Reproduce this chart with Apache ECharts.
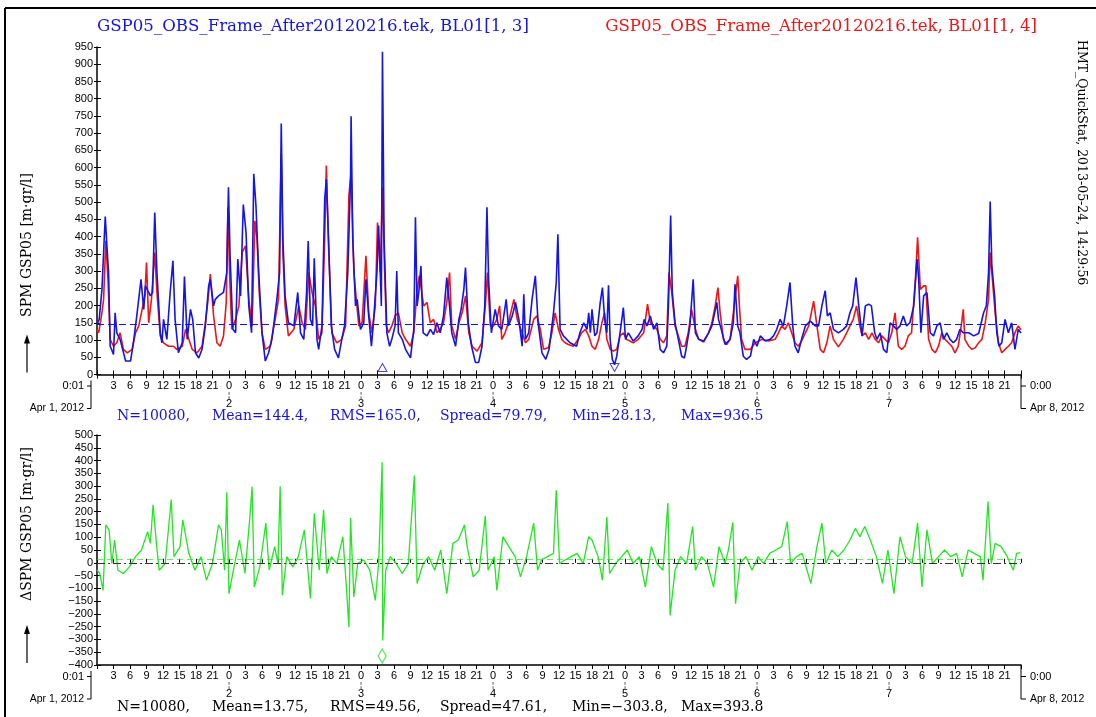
<!DOCTYPE html>
<html>
<head>
<meta charset="utf-8">
<script src="https://cdn.jsdelivr.net/npm/echarts@6/dist/echarts.min.js"></script>
<style>
html, body { margin: 0; padding: 0; background: #fff; }
#c { width: 1096px; height: 717px; }
</style>
</head>
<body>
<div id="c"></div>
<script>
// SPM at GSP05, one week of records, time in hours since Apr 1 2012 0:00
const spanHours = 168;
const tickHours = 3;

// BL01[1, 3] (blue)
const blueSeries = [
[0,145],[0.4,160],[0.9,247],[1.2,354],[1.5,458],[1.8,373],[2.1,296],[2.4,82],[3.0,58],[3.3,179],[3.6,121],[4.2,102],[5.2,39],[6.1,39],[6.7,102],[7.3,179],[8.0,276],[8.5,189],[8.8,257],[9.7,228],[10.1,238],[10.5,470],[10.9,296],[11.5,121],[11.8,92],[12.1,160],[12.7,102],[13.3,238],[13.8,330],[14.2,160],[14.8,63],[15.5,92],[15.9,284],[16.4,102],[17.0,189],[17.4,160],[17.9,63],[18.5,48],[19.1,73],[19.7,141],[20.3,257],[20.6,276],[21.2,199],[21.5,218],[22.1,228],[23.0,238],[23.6,296],[23.9,543],[24.2,344],[24.7,131],[25.2,121],[25.6,335],[26.1,228],[26.6,493],[27.1,412],[27.6,199],[28.1,121],[28.5,582],[28.9,490],[29.4,296],[30.0,121],[30.6,39],[31.2,63],[31.8,102],[32.7,218],[33.2,296],[33.5,728],[33.8,393],[34.2,228],[34.8,150],[35.8,141],[36.5,238],[37.0,121],[37.6,102],[38.1,238],[38.4,387],[38.8,160],[39.2,141],[39.5,337],[40.0,102],[40.3,73],[40.9,141],[41.4,509],[41.7,567],[42.1,393],[42.6,141],[43.2,73],[43.9,48],[44.5,102],[45.0,141],[45.6,296],[46.1,567],[46.2,749],[46.5,393],[47.0,199],[47.3,218],[47.9,131],[48.5,150],[48.9,276],[49.4,170],[49.9,82],[50.3,160],[50.9,296],[51.2,432],[51.5,296],[51.7,199],[51.9,936.5],[52.2,393],[52.7,121],[53.2,82],[53.6,102],[54.2,141],[54.5,300],[54.8,121],[55.5,102],[56.1,73],[57.0,48],[57.6,131],[57.9,456],[58.2,199],[58.5,238],[58.9,315],[59.3,121],[60.0,112],[60.6,131],[61.2,116],[61.8,150],[62.4,121],[63.0,170],[63.6,281],[64.1,199],[64.5,121],[65.2,82],[65.8,160],[66.2,189],[66.7,247],[67.0,310],[67.5,150],[68.1,82],[68.8,35],[69.4,35],[70.0,82],[70.5,199],[70.9,485],[71.2,276],[71.7,121],[72.1,160],[72.4,189],[73.0,141],[73.6,131],[74.4,218],[74.8,141],[75.5,170],[76.1,209],[76.7,160],[77.3,82],[77.6,233],[77.9,102],[78.5,121],[79.1,218],[79.7,286],[80.2,150],[80.9,63],[81.6,44],[82.2,73],[83.0,179],[83.5,267],[83.8,407],
[84.2,131],[84.8,112],[86.0,92],[87.2,82],[87.8,121],[88.5,150],[89.1,131],[89.4,179],[89.7,121],[90.0,189],[90.5,112],[90.9,121],[91.5,209],[91.9,252],[92.3,160],[92.7,121],[93.0,259],[93.3,102],[93.7,44],[94.1,28.13],[94.5,53],[95.1,121],[95.7,194],[96.1,102],[96.6,121],[97.5,97],[98.4,112],[99.1,131],[99.5,160],[100.0,141],[100.6,170],[101.2,131],[101.8,150],[102.4,73],[103.0,63],[103.6,82],[103.9,199],[104.3,461],[104.6,238],[105.1,150],[105.7,102],[106.3,53],[106.8,48],[107.2,82],[107.8,141],[108.4,276],[108.8,121],[109.4,102],[110.3,97],[111.2,121],[111.8,141],[112.3,179],[112.7,209],[113.0,160],[113.5,131],[114.2,87],[115.1,102],[115.7,150],[116.0,262],[116.5,141],[116.9,121],[117.5,53],[118.1,44],[118.8,53],[119.4,102],[120.0,82],[120.6,112],[121.5,97],[122.4,102],[123.0,112],[123.6,131],[124.2,160],[124.8,141],[125.4,199],[126.0,267],[126.5,141],[126.9,82],[127.5,63],[128.1,102],[128.8,141],[129.7,155],[130.6,141],[131.2,141],[131.8,199],[132.4,243],[132.8,170],[133.3,179],[133.9,131],[134.8,121],[135.7,131],[136.3,141],[136.9,179],[137.4,199],[138.0,281],[138.5,199],[139.1,112],[139.7,199],[140.3,204],[140.8,199],[141.4,121],[141.8,102],[142.4,121],[143.0,73],[143.6,63],[144.2,150],[144.8,141],[145.4,131],[146.0,141],[146.6,170],[147.2,141],[147.8,150],[148.5,199],[149.1,335],[149.4,276],[149.8,121],[150.3,228],[150.9,238],[151.5,121],[152.1,112],[152.7,141],[153.3,150],[153.9,102],[154.5,121],[155.1,102],[155.7,92],[156.3,102],[156.9,131],[157.5,121],[158.5,121],[159.4,112],[160.3,119],[161.2,179],[161.7,199],[162.1,296],[162.4,502],[162.7,315],[163.2,228],[163.6,121],[164.0,82],[164.5,92],[165.1,160],[165.7,121],[166.3,150],[166.9,73],[167.5,131],[168,120]
];

// BL01[1, 4] (red)
const redSeries = [
[0,130],[0.3,121],[0.9,179],[1.2,218],[1.6,388],[2.0,276],[2.4,102],[3.0,82],[3.6,92],[4.2,121],[4.8,73],[5.5,63],[6.4,73],[7.0,121],[7.6,141],[8.2,189],[8.7,228],[9.0,325],[9.4,150],[9.9,218],[10.5,354],[10.9,238],[11.5,112],[12.1,92],[13.0,82],[13.9,82],[14.5,73],[15.5,82],[16.1,131],[16.7,102],[17.3,73],[18.2,63],[19.1,82],[19.7,150],[20.2,218],[20.6,291],[21.2,170],[21.8,92],[22.4,82],[23.0,112],[23.5,209],[23.8,485],[24.1,296],[24.5,131],[25.2,160],[25.8,199],[26.4,354],[27.0,373],[27.6,218],[28.2,141],[28.7,446],[29.1,393],[29.5,238],[30.0,121],[30.6,73],[31.5,82],[32.4,160],[33.0,218],[33.5,640],[33.8,354],[34.2,199],[34.8,112],[35.8,131],[36.7,199],[37.3,150],[37.9,131],[38.5,296],[39.1,238],[39.7,199],[40.3,102],[40.9,121],[41.4,393],[41.7,606],[42.1,373],[42.7,121],[43.6,92],[44.5,102],[45.2,141],[45.8,519],[46.2,587],[46.7,296],[47.6,141],[48.2,150],[48.9,344],[49.4,179],[50.0,121],[50.6,199],[51.0,441],[51.5,296],[51.9,543],[52.3,300],[52.6,141],[53.0,121],[53.6,141],[54.2,170],[54.8,179],[55.5,121],[56.1,102],[57.0,82],[57.6,121],[58.2,247],[58.6,286],[59.4,199],[60.0,209],[60.6,150],[61.2,160],[61.8,121],[62.4,131],[63.0,150],[63.6,209],[64.1,296],[64.5,141],[65.2,102],[65.8,150],[66.4,179],[67.0,228],[67.6,121],[68.2,82],[69.1,68],[70.0,92],[70.6,199],[71.0,296],[71.5,141],[72.1,141],[72.7,160],[73.2,199],[73.6,102],[74.2,121],[74.8,150],[75.8,218],[76.4,160],[77.3,121],[77.9,92],[78.5,102],[79.4,160],[80.0,170],[80.6,131],[81.2,73],[82.1,78],[82.7,121],[83.3,179],[83.9,131],
[84.5,102],[85.1,92],[85.7,87],[86.6,82],[87.5,102],[88.1,121],[88.8,131],[89.4,112],[90.0,82],[90.6,73],[91.2,102],[91.8,150],[92.3,179],[92.7,102],[93.3,73],[93.9,68],[94.5,73],[95.1,112],[95.7,121],[96.3,102],[96.9,97],[97.5,92],[98.4,102],[99.4,121],[100.1,204],[100.6,150],[101.2,141],[101.8,131],[102.4,102],[103.0,92],[103.6,112],[104.0,296],[104.5,238],[105.1,141],[105.7,112],[106.3,82],[106.9,82],[107.5,121],[108.1,189],[108.8,131],[109.4,102],[110.3,94],[111.2,121],[111.8,150],[112.4,199],[112.9,252],[113.3,179],[113.9,102],[114.5,87],[115.1,102],[115.7,179],[116.5,286],[116.8,199],[117.2,102],[117.8,73],[118.8,73],[119.7,92],[120.9,102],[122.1,97],[123.3,102],[123.9,121],[124.5,141],[125.1,131],[125.7,150],[126.3,121],[126.9,92],[127.5,82],[128.1,97],[128.8,121],[129.4,141],[130.0,189],[130.3,213],[130.9,141],[131.5,73],[132.1,63],[132.7,92],[133.3,141],[133.9,102],[134.8,80],[135.7,102],[136.3,121],[136.9,141],[137.5,160],[138.1,199],[138.6,150],[139.1,112],[139.7,121],[140.3,102],[140.9,121],[141.5,102],[142.1,92],[142.7,112],[143.3,102],[143.9,92],[144.5,121],[145.1,179],[145.7,82],[146.3,73],[146.9,82],[147.5,112],[148.1,121],[148.8,276],[149.2,398],[149.7,247],[150.3,257],[150.7,257],[151.2,102],[151.8,73],[152.4,63],[153.0,82],[153.6,121],[154.2,102],[154.8,92],[155.4,82],[156.0,63],[156.6,82],[157.2,150],[157.5,189],[157.8,102],[158.5,82],[159.1,73],[159.7,78],[160.3,92],[160.9,102],[161.5,150],[162.1,218],[162.4,354],[162.8,276],[163.3,179],[163.9,92],[164.5,63],[165.1,73],[165.7,82],[166.3,92],[166.9,121],[167.5,141],[168,130]
];

// ΔSPM = BL01[1, 3] − BL01[1, 4] (green)
const diffSeries = [
[0,-29],[0.5,-42],[1.1,-108],[1.6,148],[2.2,129],[2.7,-3],[3.2,89],[3.8,-29],[4.8,-42],[5.9,-16],[7.0,24],[8.1,50],[9.2,122],[9.7,76],[10.2,227],[10.8,76],[11.3,-29],[12.4,-3],[13.5,247],[14.0,24],[15.1,63],[15.6,168],[16.7,37],[17.8,-29],[18.9,24],[19.9,-68],[21.0,-3],[22.1,148],[22.6,129],[23.2,-29],[23.6,276],[24.0,-121],[24.8,-29],[25.9,89],[26.9,-42],[27.7,155],[28.2,297],[28.6,-95],[29.6,-16],[30.7,155],[31.3,-29],[32.3,63],[32.9,-3],[33.3,299],[33.7,-127],[34.5,24],[35.6,-16],[36.6,24],[37.7,129],[38.8,-140],[39.5,194],[40.4,-29],[41.2,207],[41.8,-42],[42.6,24],[43.6,-3],[44.7,102],[45.3,-81],[45.8,-252],[46.1,175],[46.7,-134],[47.4,-3],[48.5,11],[49.6,-29],[50.6,-147],[51.2,-3],[51.85,393.8],[51.95,-303.8],[52.5,-29],[53.3,24],[54.4,-3],[55.5,-42],[56.6,-3],[57.7,341],[58.2,-81],[59.3,-3],[60.3,24],[61.4,-29],[62.5,50],[63.6,-121],[64.7,76],[65.7,89],[66.8,148],[67.3,63],[68.4,-55],[69.5,-29],[70.6,184],[71.1,-29],[72.2,24],[72.7,-108],[73.8,102],[74.9,63],[76.0,24],[77.0,-55],[78.1,24],[79.4,155],[80.1,-29],[80.8,11],[81.9,24],[83.0,37],[83.5,284],[84.1,-3],[85.1,11],[86.2,24],[87.3,37],[88.4,-3],[89.4,102],[90.0,89],[91.1,24],[91.9,-68],[92.7,179],[93.2,-42],[94.3,-3],[95.4,24],[96.4,50],[97.5,-3],[98.6,24],[99.7,-95],[100.8,63],[101.8,-3],[102.9,-29],[103.8,234],[104.2,-206],[105.1,-29],[106.1,24],[107.2,-3],[108.3,142],[108.8,-29],[109.9,24],[111.0,-3],[112.1,-95],[113.1,63],[114.2,-3],[114.8,50],[115.6,158],[116.1,-160],[116.9,-3],[118.0,24],[119.1,-29],[120.2,24],[121.2,-3],[122.3,37],[123.4,50],[124.5,63],[125.5,161],[126.1,-3],[127.2,24],[128.2,37],[129.8,-81],[130.9,63],[131.8,155],[132.5,-3],[133.6,50],[134.7,24],[135.8,50],[136.9,89],[137.9,135],[138.7,102],[139.6,142],[140.6,89],[141.7,24],[142.8,-81],[143.8,50],[144.9,-121],[146.0,102],[147.0,24],[148.2,-3],[149.2,155],[150.0,-95],[150.9,129],[151.9,-3],[153.0,24],[154.1,50],[155.2,24],[156.3,37],[157.3,-55],[158.4,50],[159.5,37],[160.6,24],[161.1,-68],[162.0,240],[162.6,-3],[163.3,76],[164.4,63],[165.5,24],[166.6,-29],[167.2,37],[167.9,40]
];

// summary statistics printed under each panel
const blueStats = ['N=10080,', 'Mean=144.4,', 'RMS=165.0,', 'Spread=79.79,', 'Min=28.13,', 'Max=936.5'];
const diffStats = ['N=10080,', 'Mean=13.75,', 'RMS=49.56,', 'Spread=47.61,', 'Min=\u2212303.8,', 'Max=393.8'];
const blueMean = 144.4;
const diffMean = 13.75;

const blueTitle = 'GSP05_OBS_Frame_After20120216.tek, BL01[1, 3]';
const redTitle = 'GSP05_OBS_Frame_After20120216.tek, BL01[1, 4]';
const stampText = 'HMT_QuickStat, 2013-05-24, 14:29:56';
const topAxisName = 'SPM GSP05 [m\u00b7gr/l]';
const bottomAxisName = '\u0394SPM GSP05 [m\u00b7gr/l]';
const startLabels = ['0:01', 'Apr 1, 2012'];
const endLabels = ['0:00', 'Apr 8, 2012'];

const BLUE = '#1414e6';
const RED = '#f01414';
const GREEN = '#22e622';
const SERIF = '"DejaVu Serif", "Liberation Serif", serif';
const SANS = '"Liberation Sans", Arial, sans-serif';

function hourLabel(h) {
  if (h <= 0 || h >= spanHours) return '';
  const hr = h % 24;
  if (hr === 0) return '0\n{m|\u00a6}\n{d|' + (h / 24 + 1) + '}';
  return String(hr);
}
function minus(v) { return String(v).replace('-', '\u2212'); }

function xAxesFor(gi) {
  return [{
    gridIndex: gi, type: 'value', min: 0, max: spanHours, interval: tickHours, position: 'bottom',
    axisLine: { onZero: false, lineStyle: { color: '#000', width: 1.5 } },
    axisTick: { inside: false, length: 4, lineStyle: { color: '#000', width: 1 } },
    axisLabel: {
      formatter: hourLabel, fontFamily: SANS, fontSize: 11, color: '#000', margin: 5, lineHeight: 12,
      rich: { m: { fontSize: 8, lineHeight: 6, color: '#000', fontFamily: SANS }, d: { fontSize: 11, lineHeight: 12, color: '#000', fontFamily: SANS } }
    },
    splitLine: { show: false }
  }, {
    gridIndex: gi, type: 'value', min: 0, max: spanHours, interval: tickHours, position: 'bottom',
    axisLine: { show: false },
    axisTick: { inside: true, length: 4, lineStyle: { color: '#000', width: 1 } },
    axisLabel: { show: false }, splitLine: { show: false }
  }];
}
function yAxesFor(gi, min, max) {
  return [{
    gridIndex: gi, type: 'value', min: min, max: max, interval: 50,
    axisLine: { show: true, onZero: false, lineStyle: { color: '#000', width: 1.5 } },
    axisTick: { show: true, inside: false, length: 3, lineStyle: { color: '#000' } },
    axisLabel: { formatter: minus, fontFamily: SANS, fontSize: 11, color: '#000', margin: 4 },
    splitLine: { show: false }
  }, {
    gridIndex: gi, type: 'value', min: min, max: max, interval: 50, position: 'left',
    axisLine: { show: false },
    axisTick: { show: true, inside: true, length: 4, lineStyle: { color: '#000' } },
    axisLabel: { show: false }, splitLine: { show: false }
  }];
}

// times of the extremes, taken from the series themselves
function argExtreme(arr, cmp) {
  let best = arr[0];
  for (const p of arr) if (cmp(p[1], best[1])) best = p;
  return best[0];
}
const tBlueMax = argExtreme(blueSeries, (a, b) => a > b);
const tBlueMin = argExtreme(blueSeries, (a, b) => a < b);
const tDiffMax = argExtreme(diffSeries, (a, b) => a > b);

const option = {
  animation: false,
  backgroundColor: '#fff',
  grid: [
    { left: 97, right: 75, top: 47, height: 327.5 },
    { left: 97, right: 75, top: 435, height: 230 }
  ],
  xAxis: [...xAxesFor(0), ...xAxesFor(1)],
  yAxis: [...yAxesFor(0, 0, 950), ...yAxesFor(1, -400, 500)],
  series: [
    {
      type: 'line', xAxisIndex: 0, yAxisIndex: 0, data: redSeries, showSymbol: false,
      lineStyle: { color: RED, width: 1.6 }, z: 2
    },
    {
      type: 'line', xAxisIndex: 0, yAxisIndex: 0, data: blueSeries, showSymbol: false,
      lineStyle: { color: BLUE, width: 1.6 }, z: 3,
      markLine: {
        silent: true, symbol: 'none', label: { show: false },
        lineStyle: { color: BLUE, type: [7, 4], width: 1 },
        data: [{ yAxis: blueMean }]
      }
    },
    {
      type: 'scatter', xAxisIndex: 0, yAxisIndex: 0, z: 4,
      itemStyle: { color: 'transparent', borderColor: BLUE, borderWidth: 1 },
      data: [
        { value: [tBlueMax, 0], symbol: 'triangle', symbolSize: [9, 8], symbolOffset: [0, -7] },
        { value: [tBlueMin, 0], symbol: 'path://M0,0L10,0L5,9Z', symbolSize: [9, 8], symbolOffset: [0, -7] }
      ]
    },
    {
      type: 'line', xAxisIndex: 2, yAxisIndex: 2, data: diffSeries, showSymbol: false,
      lineStyle: { color: GREEN, width: 1.3 }, z: 2,
      markLine: {
        silent: true, symbol: 'none', label: { show: false },
        data: [
          { yAxis: 0, lineStyle: { color: '#333', type: [8, 3, 2, 3], width: 1.2 } },
          { yAxis: diffMean, lineStyle: { color: GREEN, type: [6, 4], width: 1, opacity: 0.7 } }
        ]
      }
    },
    {
      type: 'scatter', xAxisIndex: 2, yAxisIndex: 2, z: 4,
      itemStyle: { color: 'transparent', borderColor: GREEN, borderWidth: 1.3 },
      data: [{ value: [tDiffMax, -400], symbol: 'diamond', symbolSize: [8, 14], symbolOffset: [0, -9] }]
    }
  ]
};

const chart = echarts.init(document.getElementById('c'), null, { renderer: 'canvas' });
chart.setOption(option);

// annotations placed relative to the axes
function px(xi, yi, x, y) { return chart.convertToPixel({ xAxisIndex: xi, yAxisIndex: yi }, [x, y]); }
const g = [];
const line = (x1, y1, x2, y2, w) => g.push({ type: 'line', shape: { x1, y1, x2, y2 }, style: { stroke: '#000', lineWidth: w || 1 }, silent: true });
const text = (x, y, t, o) => g.push({ type: 'text', x, y, rotation: o.rot || 0, style: Object.assign({ text: t, fill: '#000', fontFamily: SANS, fontSize: 11, align: 'left', verticalAlign: 'middle' }, o.style || {}), silent: true });

// frame
line(5, 8, 1096, 8, 2);
line(5, 8, 5, 717, 2);

text(97, 27, blueTitle, { style: { fill: BLUE, fontFamily: SERIF, fontSize: 16.6 } });
text(1037, 27, redTitle, { style: { fill: RED, fontFamily: SERIF, fontSize: 16.6, align: 'right' } });
text(1081, 40, stampText, { rot: -Math.PI / 2, style: { fontFamily: SERIF, fontSize: 12.5 } });

const panels = [
  { xi: 0, yi: 0, ymin: 0, name: topAxisName, nameY: 245, stats: blueStats, statColor: BLUE },
  { xi: 2, yi: 2, ymin: -400, name: bottomAxisName, nameY: 524, stats: diffStats, statColor: '#000' }
];
const statX = [117, 212, 330, 440, 572, 681];
panels.forEach(p => {
  const a = px(p.xi, p.yi, 0, p.ymin);
  const b = px(p.xi, p.yi, spanHours, p.ymin);
  const ay = a[1];
  // left bracket: start time and date
  line(a[0] - 6, ay + 6, a[0] - 6, ay + 34);
  line(a[0] - 10, ay + 11.5, a[0] - 6, ay + 11.5);
  line(a[0] - 10, ay + 34, a[0] - 6, ay + 34);
  text(a[0] - 13, ay + 11.5, startLabels[0], { style: { align: 'right' } });
  text(a[0] - 13, ay + 34, startLabels[1], { style: { align: 'right', fontSize: 10.5 } });
  // right bracket: end time and date
  line(b[0], ay, b[0], ay + 34);
  line(b[0], ay + 11.5, b[0] + 5, ay + 11.5);
  line(b[0], ay + 34, b[0] + 5, ay + 34);
  text(b[0] + 9, ay + 11.5, endLabels[0], {});
  text(b[0] + 9, ay + 34, endLabels[1], { style: { fontSize: 10.5 } });
  // axis name with arrow
  text(27, p.nameY, p.name, { rot: Math.PI / 2, style: { fontFamily: SERIF, fontSize: 14, align: 'center' } });
  line(27, ay - 2, 27, ay - 34, 1.2);
  g.push({ type: 'polygon', shape: { points: [[27, ay - 40], [24, ay - 31], [30, ay - 31]] }, style: { fill: '#000' }, silent: true });
  // statistics line
  p.stats.forEach((s, i) => text(statX[i], ay + 42, s, { style: { fill: p.statColor, fontFamily: SERIF, fontSize: 14 } }));
});

chart.setOption({ graphic: { elements: g } });
</script>
</body>
</html>
